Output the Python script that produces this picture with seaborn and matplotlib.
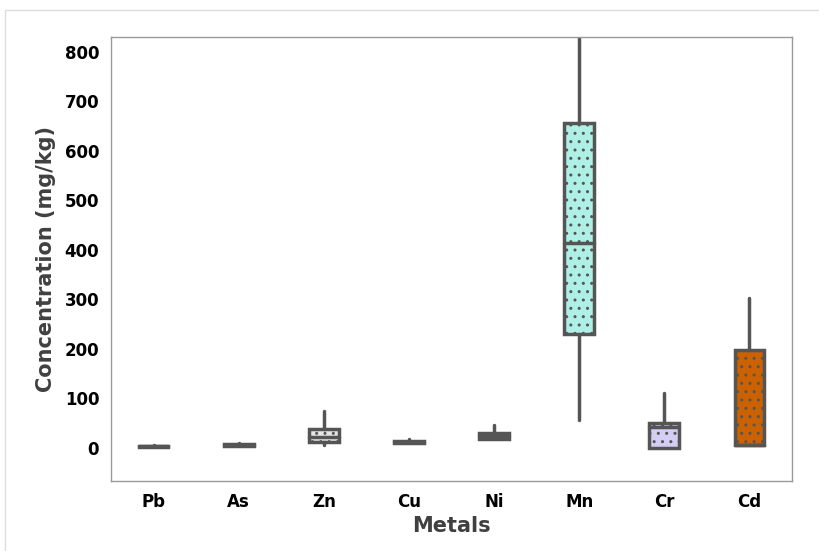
import numpy as np
import pandas as pd
import seaborn as sns
import matplotlib.pyplot as plt
from matplotlib.patches import Rectangle

# five-number summaries: min, Q1, median, Q3, max (mg/kg)
metals = ['Pb', 'As', 'Zn', 'Cu', 'Ni', 'Mn', 'Cr', 'Cd']
pb = [2, 2.5, 3.5, 4.5, 5]
as_ = [4, 4.5, 6, 8, 10]
zn = [6, 11, 22, 38, 74]
cu = [10, 10.5, 12, 14, 18]
ni = [17, 18, 24, 31, 47]
mn = [57, 230, 414, 656, 900]
cr = [0, 0, 42, 50, 111]
cd = [6, 6, 6, 198, 303]
colors = ['#e6e6e6', '#e6e6e6', '#e6e6e6', '#e6e6e6', '#e6e6e6',
          '#aef0e6', '#d4cdf4', '#cc6100']

df = pd.DataFrame({
    'metal': np.repeat(metals, 5),
    'value': np.concatenate([pb, as_, zn, cu, ni, mn, cr, cd]),
})

sns.set_style('white')
plt.rcParams['font.family'] = ['DejaVu Sans']
plt.rcParams['hatch.linewidth'] = 1.0

fig = plt.figure(figsize=(8.2, 5.51), dpi=100)
ax = fig.add_axes([0.1354, 0.127, 0.8305, 0.8058])

sns.boxplot(data=df, x='metal', y='value', hue='metal', order=metals,
            palette=dict(zip(metals, colors)), legend=False, saturation=1,
            width=0.35, whis=(0, 100), showcaps=False, fliersize=0,
            linecolor='#555555', linewidth=2.5, ax=ax)

for p in ax.patches:
    p.set_hatch('..')
    p.set_edgecolor('#555555')
for ln in ax.lines:
    ln.set_solid_capstyle('round')

ax.set_ylim(-67, 830)
ax.set_yticks(range(0, 801, 100))
ax.set_xlabel('Metals', fontsize=15, fontweight='bold', color='#404040')
ax.set_ylabel('Concentration (mg/kg)', fontsize=15, fontweight='bold',
              color='#404040', labelpad=6)
ax.tick_params(axis='both', direction='out', length=5, width=1,
               color='#999999', labelsize=12, labelcolor='black')
for lab in ax.get_xticklabels() + ax.get_yticklabels():
    lab.set_fontweight('bold')
for s in ax.spines.values():
    s.set_color('#999999')
    s.set_linewidth(1)

fig.patches.append(Rectangle((0.006, -0.01), 1.0, 0.992, transform=fig.transFigure,
                             fill=False, edgecolor='#dddddd', linewidth=1))

fig.savefig('out.png', dpi=100)
